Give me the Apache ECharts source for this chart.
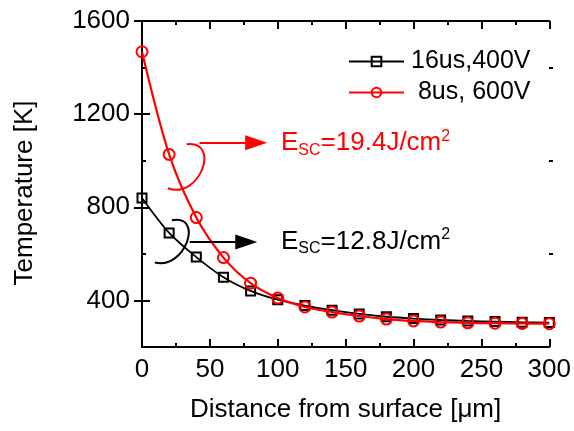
<!DOCTYPE html>
<html><head><meta charset="utf-8">
<script src="https://cdn.jsdelivr.net/npm/echarts@6/dist/echarts.min.js"></script>
<style>html,body{margin:0;padding:0;background:#fff}#c{width:574px;height:431px}</style>
</head><body><div id="c"></div>
<script>
// ---- data ----
const distances = [0,20,40,60,80,100,120,140,160,180,200,220,240,260,280,300];
const temp16us400V = [840,690,586,500,441,403,378,358,342,330,322,316,312,309,306,305];
const temp8us600V = [1468,1027,756,584,474,410,372,350,333,320,312,307,304,302,301,300];
const seriesNames = ['16us,400V', ' 8us, 600V'];
const yLabelValues = [400, 800, 1200, 1600];
const yMinorValues = [600, 1000, 1400];
const xTickInterval = 50;
// annotations (data coordinates)
const redArrow = [[42.4, 1077], [84.1, 1077]];
const blackArrow = [[35.1, 651], [76.8, 651]];
const redArc = [[32.9, 1071], [58.5, 1088], [42.4, 830], [19.0, 882]];
const blackArc = [[22.0, 744], [46.1, 770], [31.5, 529], [9.5, 563]];
const redTextPos = [102.4, 1075];
const blackTextPos = [102.4, 652];
const redText = ['E', 'SC', '=19.4J/cm', '2'];
const blackText = ['E', 'SC', '=12.8J/cm', '2'];

const FONT = "'Liberation Sans', Arial, sans-serif";
const chart = echarts.init(document.getElementById('c'), null, {renderer: 'canvas'});

const axisLineStyle = {show: true, lineStyle: {color: '#000', width: 2}};
const hiddenLine = {show: false};
const tickStyle = {color: '#000', width: 2};
const gridBox = {left: 142, right: 21, top: 21, bottom: 84, containLabel: false};

function xAx(pos, withLabel, gridIndex, visible) {
  return {
    gridIndex: gridIndex,
    type: 'value', min: 0, max: 300, interval: xTickInterval, position: pos,
    axisLine: visible ? axisLineStyle : hiddenLine,
    axisTick: {show: visible, inside: true, length: 8, lineStyle: tickStyle},
    minorTick: {show: visible, splitNumber: 2, length: 4, lineStyle: tickStyle},
    splitLine: {show: false}, minorSplitLine: {show: false},
    axisLabel: withLabel ? {show: true, color: '#000', fontSize: 26, fontFamily: FONT, margin: 10, formatter: v => String(v)} : {show: false},
    name: withLabel ? 'Distance from surface [\u03bcm]' : '',
    nameLocation: 'middle', nameGap: 50,
    nameTextStyle: {color: '#000', fontSize: 26, fontFamily: FONT}
  };
}
function yAx(pos, tickVals, len, withLine, withLabel, gridIndex) {
  return {
    gridIndex: gridIndex,
    type: 'value', min: 200, max: 1600, interval: 200, position: pos,
    axisLine: withLine ? axisLineStyle : hiddenLine,
    axisTick: {show: true, inside: true, length: len, lineStyle: tickStyle, customValues: tickVals},
    splitLine: {show: false},
    axisLabel: withLabel ? {show: true, color: '#000', fontSize: 26, fontFamily: FONT, margin: 12, customValues: yLabelValues, formatter: v => String(v)} : {show: false},
    name: withLabel ? 'Temperature [K]' : '',
    nameLocation: 'middle', nameGap: 104,
    nameTextStyle: {color: '#000', fontSize: 26, fontFamily: FONT, padding: [0, 18, 0, 0]}
  };
}

chart.setOption({
  animation: false,
  backgroundColor: '#fff',
  grid: [Object.assign({}, gridBox), Object.assign({}, gridBox)],
  legend: {
    orient: 'vertical', left: 343, top: 44, itemWidth: 55, itemHeight: 12, itemGap: 6,
    selectedMode: false,
    textStyle: {color: '#000', fontSize: 25, fontFamily: FONT, lineHeight: 25, padding: [0, 0, 0, 2]},
    data: seriesNames
  },
  xAxis: [xAx('bottom', true, 0, true), xAx('top', false, 0, true), xAx('bottom', false, 1, false)],
  yAxis: [
    yAx('left', yLabelValues, 8, true, true, 0),
    yAx('right', yLabelValues, 8, true, false, 0),
    yAx('left', yMinorValues, 4, false, false, 1),
    yAx('right', yMinorValues, 4, false, false, 1)
  ],
  series: [
    {
      name: seriesNames[0], type: 'line', smooth: 0.3,
      xAxisIndex: 0, yAxisIndex: 0,
      data: distances.map((d, i) => [d, temp16us400V[i]]),
      symbol: 'rect', symbolSize: 9,
      lineStyle: {color: '#000', width: 1.8},
      itemStyle: {color: 'rgba(255,255,255,0)', borderColor: '#000', borderWidth: 2},
      markLine: {
        silent: true, symbol: ['none', 'triangle'], symbolSize: [15, 22],
        label: {show: false},
        lineStyle: {color: '#000', width: 2, type: 'solid'},
        data: [[{coord: blackArrow[0]}, {coord: blackArrow[1]}]]
      },
      z: 2
    },
    {
      name: seriesNames[1], type: 'line', smooth: 0.3,
      xAxisIndex: 0, yAxisIndex: 0,
      data: distances.map((d, i) => [d, temp8us600V[i]]),
      symbol: 'circle', symbolSize: 11,
      lineStyle: {color: '#ff0000', width: 2.2},
      itemStyle: {color: 'rgba(255,255,255,0)', borderColor: '#ff0000', borderWidth: 2},
      markLine: {
        silent: true, symbol: ['none', 'triangle'], symbolSize: [15, 22],
        label: {show: false},
        lineStyle: {color: '#ff0000', width: 2, type: 'solid'},
        data: [[{coord: redArrow[0]}, {coord: redArrow[1]}]]
      },
      z: 3
    }
  ]
});

function px(p) { return chart.convertToPixel({xAxisIndex: 0, yAxisIndex: 0}, p); }
function arc(pts, color) {
  const a = px(pts[0]), b = px(pts[1]), c = px(pts[2]), d = px(pts[3]);
  return {type: 'bezierCurve', silent: true, z: 10,
    shape: {x1: a[0], y1: a[1], cpx1: b[0], cpy1: b[1], cpx2: c[0], cpy2: c[1], x2: d[0], y2: d[1]},
    style: {stroke: color, lineWidth: 2, fill: null}};
}
function label(pos, parts, color) {
  const p = px(pos);
  return {type: 'text', x: p[0], y: p[1], silent: true, z: 10,
    style: {
      text: '{m|' + parts[0] + '}{s|' + parts[1] + '}{m|' + parts[2] + '}{u|' + parts[3] + '}',
      align: 'left', verticalAlign: 'middle',
      rich: {
        m: {fontSize: 26, fontFamily: FONT, fill: color, color: color, lineHeight: 30, verticalAlign: 'middle'},
        s: {fontSize: 16, fontFamily: FONT, fill: color, color: color, lineHeight: 16, verticalAlign: 'bottom'},
        u: {fontSize: 16, fontFamily: FONT, fill: color, color: color, lineHeight: 16, verticalAlign: 'top'}
      }
    }};
}
chart.setOption({
  graphic: [
    arc(redArc, '#ff0000'), arc(blackArc, '#000'),
    label(redTextPos, redText, '#ff0000'), label(blackTextPos, blackText, '#000')
  ]
});
</script></body></html>
